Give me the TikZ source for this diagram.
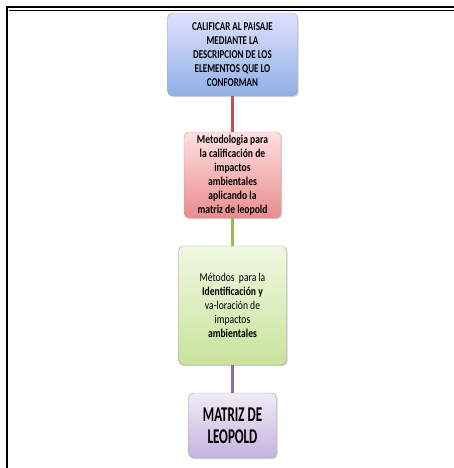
\documentclass[tikz,border=0pt]{standalone}
\usepackage{fontspec}
\setmainfont{Carlito}
\newfontfamily\narrowcaps[FakeStretch=0.75]{Carlito}
\newfontfamily\narrowtext[FakeStretch=0.8]{Carlito}
\newfontfamily\narrowbig[FakeStretch=0.62]{Carlito}
\usetikzlibrary{shadows,positioning}

\definecolor{linkred}{HTML}{C0504D}
\definecolor{linkgreen}{HTML}{9BBB59}
\definecolor{linkpurple}{HTML}{8A6FB0}

\begin{document}
\begin{tikzpicture}[x=1pt, y=-1pt,
    stepbox/.style={rectangle, rounded corners=5pt, draw=gray!70, align=center,
        inner sep=2pt,
        drop shadow={opacity=0.35, shadow xshift=1.2pt, shadow yshift=-1.2pt}},
    link/.style={line width=3pt}]
    \useasboundingbox (0,0) rectangle (454,468);
    % marco
    \draw[line width=2.6pt] (6,7) -- (454,7);
    \draw[line width=1pt] (9,10.5) -- (454,10.5);
    \draw[line width=2.6pt] (7,5.7) -- (7,468);

    \node[stepbox, minimum width=130, minimum height=83, font=\narrowcaps\bfseries\fontsize{12}{14}\selectfont,
        top color=blue!12!white, bottom color={rgb,255:red,142;green,176;blue,228}] (cal) at (232.5,54.5)
        {CALIFICAR AL PAISAJE\\MEDIANTE LA\\DESCRIPCION DE LOS\\ELEMENTOS QUE LO\\CONFORMAN};
    \node[stepbox, minimum width=97, minimum height=86, font=\narrowtext\bfseries\fontsize{12}{14}\selectfont,
        top color=red!12!white, bottom color={rgb,255:red,233;green,140;blue,140}] (met) at (232.5,175)
        {Metodologia para\\la calificación de\\impactos\\ambientales\\aplicando la\\matriz de leopold};
    \node[stepbox, minimum width=108, minimum height=119, font=\narrowtext\fontsize{12}{14}\selectfont,
        top color={rgb,255:red,240;green,248;blue,226}, bottom color={rgb,255:red,200;green,227;blue,155}] (ide) at (232.5,305.5)
        {Métodos\ \ para la\\\textbf{Identificación y}\\va-loración de\\impactos\\\textbf{ambientales}};
    \node[stepbox, minimum width=88, minimum height=65, font=\narrowbig\bfseries\fontsize{21}{22}\selectfont,
        top color={rgb,255:red,240;green,235;blue,246}, bottom color={rgb,255:red,196;green,180;blue,222}] (mat) at (232.5,425.5)
        {MATRIZ DE\\LEOPOLD};

    \draw[link, linkred] (cal) -- (met);
    \draw[link, linkgreen] (met) -- (ide);
    \draw[link, linkpurple] (ide) -- (mat);
\end{tikzpicture}
\end{document}
